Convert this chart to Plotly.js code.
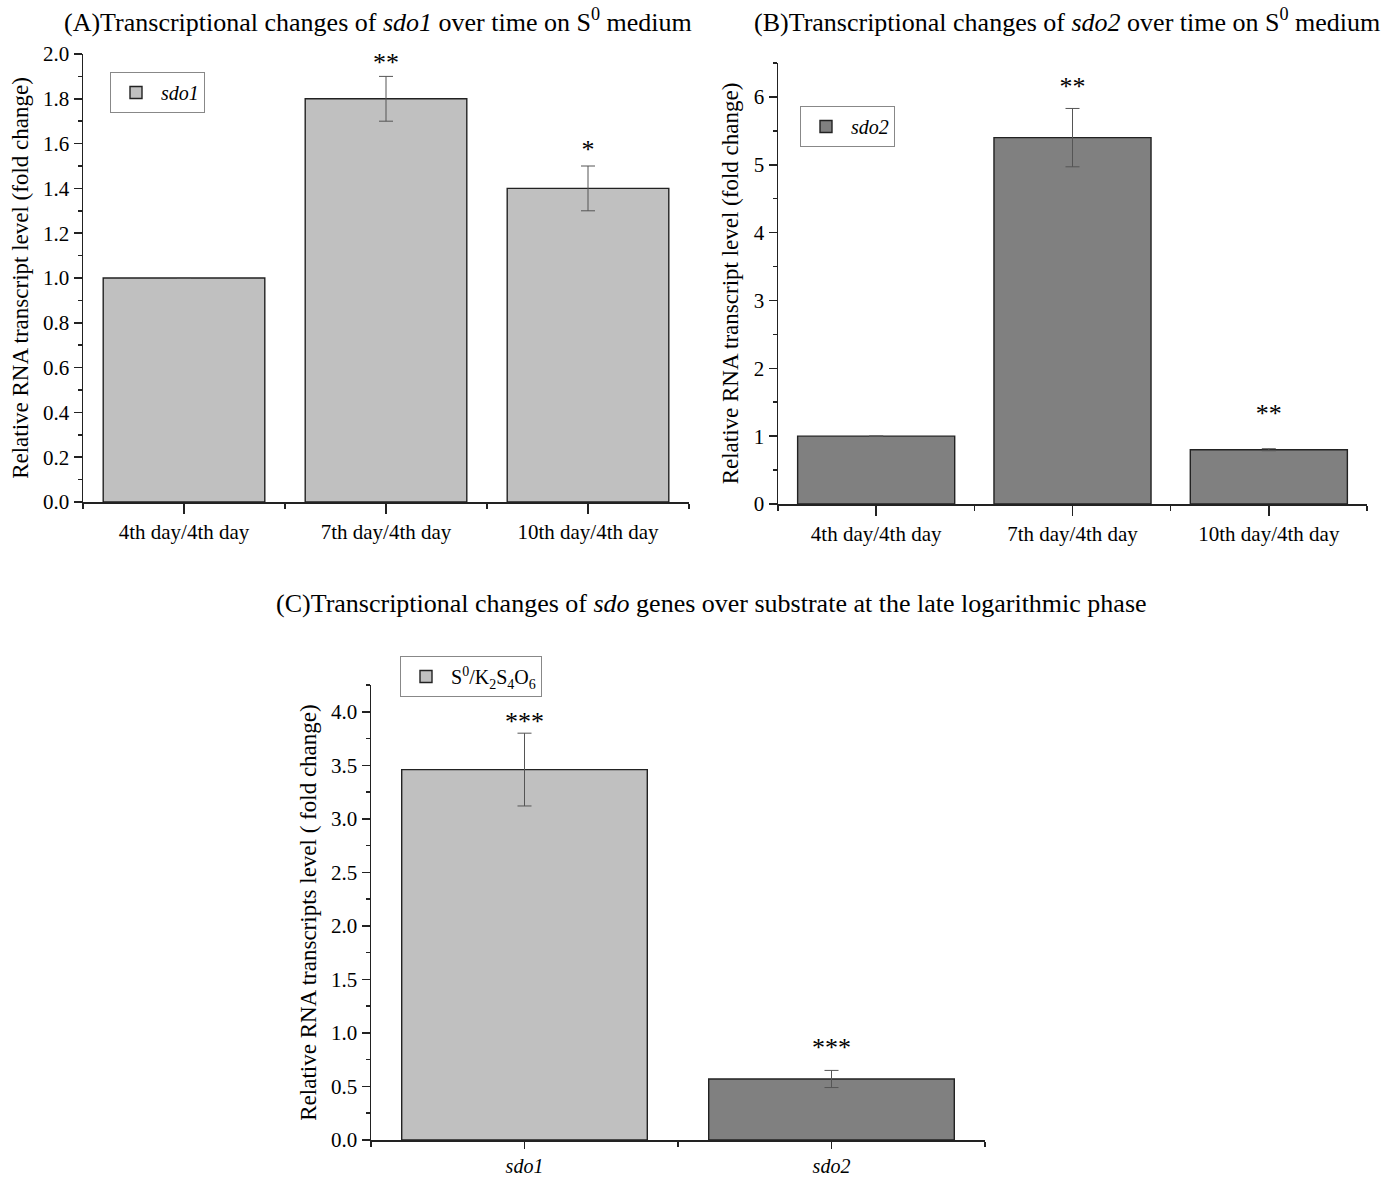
<!DOCTYPE html>
<html>
<head>
<meta charset="utf-8">
<script src="https://cdn.plot.ly/plotly-3.0.1.min.js"></script>
<style>html,body{margin:0;padding:0;background:#fff;}#chart{width:1399px;height:1177px;}</style>
</head>
<body>
<div id="chart"></div>
<script>
// ---- data ----
const catsAB = ['4th day/4th day', '7th day/4th day', '10th day/4th day'];
const sdo1Vals = [1.0, 1.8, 1.4];
const sdo1Err = [null, 0.1, 0.1];
const sdo1Sig = ['', '**', '*'];
const sdo1SigY = [null, 1.955, 1.565];

const sdo2Vals = [1.0, 5.4, 0.8];
const sdo2Err = [null, 0.43, 0.015];
const sdo2Sig = ['', '**', '**'];
const sdo2SigY = [null, 6.12, 1.3];

const catsC = ['sdo1', 'sdo2'];
const substrateVals = [3.46, 0.57];
const substrateErr = [0.34, 0.08];
const substrateSig = ['***', '***'];
const substrateSigY = [3.89, 0.85];

const titleA = '(A)Transcriptional changes of <i>sdo1</i> over time on S<sup>0</sup> medium';
const titleB = '(B)Transcriptional changes of <i>sdo2</i> over time on S<sup>0</sup> medium';
const titleC = '(C)Transcriptional changes of <i>sdo</i> genes over substrate at the late logarithmic phase';
const yTitleAB = 'Relative RNA transcript level (fold change)';
const yTitleC = 'Relative RNA transcripts level ( fold change)';
const legendC = 'S<sup>0</sup>/K<sub>2</sub>S<sub>4</sub>O<sub>6</sub>';

// ---- styles ----
const LIGHT = '#c0c0c0', DARK = '#808080';
const FONT = 'Liberation Serif, Times New Roman, serif';
const W = 1399, H = 1177;
const idx = a => a.map((_, i) => i);

function barTrace(cats, vals, err, color, name, xa, ya, legend) {
  return {
    type: 'bar', x: idx(cats), y: vals, name: name, width: 0.8,
    xaxis: xa, yaxis: ya, legend: legend, showlegend: true,
    marker: {color: color, line: {color: '#222', width: 1.4}},
    error_y: {type: 'data', array: err, visible: true, color: '#555', thickness: 1, width: 7},
    hoverinfo: 'skip'
  };
}
function sigTrace(cats, sigY, sig, xa, ya) {
  return {
    type: 'scatter', mode: 'text', x: idx(cats), y: sigY, text: sig,
    textposition: 'middle center', textfont: {family: FONT, size: 26, color: '#000'},
    xaxis: xa, yaxis: ya, showlegend: false, hoverinfo: 'skip', cliponaxis: false
  };
}

const traces = [
  barTrace(catsAB, sdo1Vals, sdo1Err, LIGHT, '<i>sdo1</i>', 'x', 'y', 'legend'),
  sigTrace(catsAB, sdo1SigY, sdo1Sig, 'x', 'y'),
  barTrace(catsAB, sdo2Vals, sdo2Err, DARK, '<i>sdo2</i>', 'x2', 'y2', 'legend2'),
  sigTrace(catsAB, sdo2SigY, sdo2Sig, 'x2', 'y2'),
  barTrace(catsC, substrateVals, substrateErr, [LIGHT, DARK], legendC, 'x3', 'y3', 'legend3'),
  sigTrace(catsC, substrateSigY, substrateSig, 'x3', 'y3')
];

function xAxis(cats, domain, anchor, italic, tl, fs) {
  return {
    domain: domain, anchor: anchor, type: 'linear',
    range: [-0.5, cats.length - 0.5],
    tickmode: 'array', tickvals: idx(cats),
    ticktext: cats.map(c => italic ? '<i>' + c + '</i>' : c),
    ticks: 'outside', ticklen: tl, tickwidth: 1.5, tickcolor: '#222',
    minor: {tickmode: 'linear', tick0: -0.5, dtick: 1, ticks: 'outside', ticklen: 5, tickwidth: 1.5, tickcolor: '#222'},
    showline: true, linecolor: '#222', linewidth: 1.5,
    showgrid: false, zeroline: false,
    tickfont: {family: FONT, size: fs, color: '#000'}, fixedrange: true
  };
}
function yAxis(range, dtick, domain, anchor, fmt, title) {
  return {
    domain: domain, anchor: anchor, range: range,
    tickmode: 'linear', tick0: 0, dtick: dtick, tickformat: fmt,
    ticks: 'outside', ticklen: 8, tickwidth: 1.5, tickcolor: '#222',
    minor: {dtick: dtick / 2, ticks: 'outside', ticklen: 4, tickwidth: 1.5, tickcolor: '#222'},
    showline: true, linecolor: '#222', linewidth: 1.5,
    showgrid: false, zeroline: false,
    tickfont: {family: FONT, size: 21, color: '#000'},
    title: {text: title, font: {family: FONT, size: 23, color: '#000'}, standoff: 8},
    fixedrange: true
  };
}
function legendBox(x, y) {
  return {
    x: x, y: y, xanchor: 'left', yanchor: 'top',
    bgcolor: '#fff', bordercolor: '#888', borderwidth: 1,
    font: {family: FONT, size: 20, color: '#000'},
    itemwidth: 40, tracegroupgap: 0
  };
}

const layout = {
  width: W, height: H,
  margin: {l: 0, r: 0, t: 0, b: 0},
  paper_bgcolor: '#fff', plot_bgcolor: '#fff',
  font: {family: FONT, color: '#000'},
  xaxis: xAxis(catsAB, [83 / W, 689 / W], 'y', false, 10, 21),
  yaxis: yAxis([0, 2.0], 0.2, [1 - 502 / H, 1 - 54 / H], 'x', '.1f', yTitleAB),
  xaxis2: xAxis(catsAB, [778 / W, 1367 / W], 'y2', false, 10, 21),
  yaxis2: yAxis([0, 6.5], 1, [1 - 504 / H, 1 - 63 / H], 'x2', 'd', yTitleAB),
  xaxis3: xAxis(catsC, [371 / W, 985 / W], 'y3', true, 7, 20),
  yaxis3: yAxis([0, 4.25], 0.5, [1 - 1140 / H, 1 - 685 / H], 'x3', '.1f', yTitleC),
  legend: legendBox(110 / W, 1 - 72 / H),
  legend2: legendBox(800 / W, 1 - 106 / H),
  legend3: legendBox(400 / W, 1 - 656 / H),
  annotations: [
    {text: titleA, x: 378 / W, y: 1 - 20 / H, xref: 'paper', yref: 'paper', showarrow: false, xanchor: 'center', yanchor: 'middle', font: {family: FONT, size: 26, color: '#000'}},
    {text: titleB, x: 1067 / W, y: 1 - 20 / H, xref: 'paper', yref: 'paper', showarrow: false, xanchor: 'center', yanchor: 'middle', font: {family: FONT, size: 26, color: '#000'}},
    {text: titleC, x: 711 / W, y: 1 - 603 / H, xref: 'paper', yref: 'paper', showarrow: false, xanchor: 'center', yanchor: 'middle', font: {family: FONT, size: 26, color: '#000'}}
  ],
  bargap: 0.2
};

Plotly.newPlot('chart', traces, layout, {staticPlot: true, displayModeBar: false});
</script>
</body>
</html>
